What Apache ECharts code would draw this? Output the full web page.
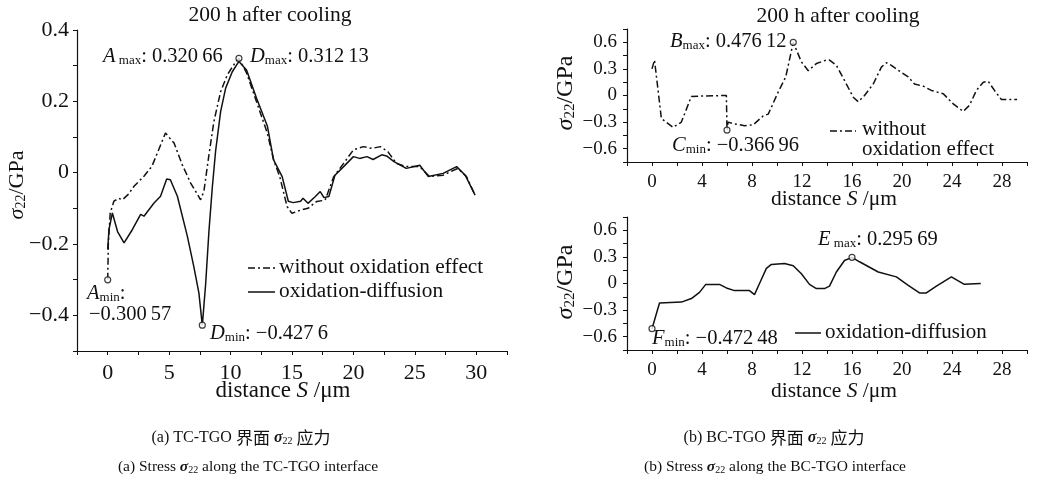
<!DOCTYPE html>
<html><head><meta charset="utf-8">
<script src="https://cdn.jsdelivr.net/npm/echarts@6/dist/echarts.min.js"></script>
<style>html,body{margin:0;padding:0;background:#fff}#c{width:1039px;height:493px}</style>
</head><body><div id="c"></div>
<script>
// ---------- DATA ----------
// (a) TC-TGO interface
const aWithoutX = [0, 0.05, 0.2, 0.5, 0.9, 1.2, 1.7, 2.14, 2.95, 3.6, 4.7, 5.4, 6.07, 6.75, 7.56, 7.83, 8.24, 8.64, 9.19, 9.73, 10.4, 10.68, 11.3, 12.1, 13.0, 13.5, 14.0, 14.6, 15.0, 15.7, 16.3, 17.0, 17.7, 18.4, 19.2, 20.0, 20.8, 21.5, 22.2, 22.8, 23.5, 24.3, 25.4, 26.2, 27.3, 28.5, 29.2, 29.9];
const aWithoutY = [-0.30, -0.2, -0.114, -0.08, -0.072, -0.076, -0.06, -0.038, -0.01, 0.018, 0.111, 0.083, 0.022, -0.029, -0.076, -0.052, 0.05, 0.143, 0.227, 0.274, 0.31, 0.3207, 0.28, 0.2, 0.11, 0.036, -0.011, -0.095, -0.114, -0.105, -0.1, -0.081, -0.077, -0.011, 0.026, 0.064, 0.073, 0.068, 0.073, 0.059, 0.026, 0.017, 0.017, -0.011, -0.007, 0.012, -0.011, -0.063];
const aDiffX = [0, 0.1, 0.38, 0.8, 1.33, 2.0, 2.68, 2.95, 3.77, 4.3, 4.8, 5.1, 5.67, 6.48, 7.0, 7.42, 7.7, 7.97, 8.24, 8.51, 8.78, 9.19, 9.6, 10.14, 10.68, 11.3, 12.1, 13.0, 13.5, 14.2, 14.7, 15.1, 15.7, 15.9, 16.3, 16.9, 17.3, 17.6, 18.0, 18.5, 19.2, 20.0, 20.5, 21.1, 21.6, 22.3, 22.7, 23.3, 24.3, 25.4, 26.1, 27.3, 28.4, 29.1, 29.9];
const aDiffY = [-0.215, -0.16, -0.113, -0.165, -0.197, -0.16, -0.117, -0.122, -0.085, -0.066, -0.018, -0.02, -0.066, -0.178, -0.262, -0.337, -0.428, -0.313, -0.164, -0.043, 0.06, 0.171, 0.237, 0.283, 0.312, 0.288, 0.21, 0.13, 0.036, -0.011, -0.08, -0.084, -0.08, -0.072, -0.086, -0.067, -0.053, -0.07, -0.067, -0.007, 0.017, 0.045, 0.04, 0.045, 0.037, 0.05, 0.047, 0.031, 0.012, 0.021, -0.011, -0.002, 0.017, -0.007, -0.063];
const aMarkX = [0, 10.68, 7.7];
const aMarkY = [-0.30057, 0.3207, -0.4276];

// (b) BC-TGO interface, without oxidation effect
const bWithoutX = [0, 0.2, 0.75, 1.68, 2.35, 3.15, 5.68, 5.95, 6.0, 6.08, 6.6, 7.4, 8.1, 8.9, 9.3, 10.1, 10.7, 11.3, 11.95, 12.5, 13.15, 13.95, 14.2, 14.75, 15.4, 16.1, 16.5, 17.0, 17.7, 18.35, 18.75, 19.15, 19.95, 20.5, 21.0, 21.7, 22.35, 23.3, 24.1, 24.9, 25.4, 25.95, 26.5, 26.9, 27.4, 27.95, 28.6, 29.2];
const bWithoutY = [0.30, 0.40, -0.26, -0.36, -0.30, -0.01, 0, 0, -0.39, -0.30, -0.32, -0.34, -0.33, -0.23, -0.21, 0.04, 0.21, 0.60, 0.38, 0.28, 0.36, 0.40, 0.40, 0.34, 0.17, -0.02, -0.07, 0, 0.13, 0.32, 0.37, 0.34, 0.26, 0.21, 0.13, 0.105, 0.057, 0.02, -0.095, -0.18, -0.11, 0.057, 0.15, 0.16, 0.057, -0.045, -0.045, -0.045];
const bWithoutMarkX = [11.3, 6.0];
const bWithoutMarkY = [0.60, -0.39];

// (b) BC-TGO interface, oxidation-diffusion
const bDiffX = [0, 0.6, 2.35, 3.15, 3.8, 4.3, 5.4, 5.95, 6.6, 7.8, 8.2, 8.6, 9.15, 9.55, 10.6, 11.3, 11.95, 12.6, 13.15, 13.8, 14.2, 14.75, 15.4, 16.0, 16.6, 18.1, 19.55, 20.5, 21.4, 21.95, 22.75, 23.95, 24.95, 26.3];
const bDiffY = [-0.51, -0.22, -0.21, -0.17, -0.10, -0.01, -0.01, -0.05, -0.08, -0.08, -0.125, 0, 0.17, 0.215, 0.226, 0.20, 0.11, -0.01, -0.057, -0.057, -0.03, 0.13, 0.26, 0.295, 0.245, 0.13, 0.075, -0.02, -0.106, -0.106, -0.03, 0.075, -0.008, 0];
const bDiffMarkX = [16.0, 0];
const bDiffMarkY = [0.295, -0.51];

// tick labels
const aXTicks = [0, 5, 10, 15, 20, 25, 30];
const aYTicks = [-0.4, -0.2, 0, 0.2, 0.4];
const bXTicks = [0, 4, 8, 12, 16, 20, 24, 28];
const bYTicks = [-0.6, -0.3, 0, 0.3, 0.6];

// ---------- CHART ----------
const FONT = "'Liberation Serif','Times New Roman',serif";
const CJK = "'Liberation Serif','Noto Sans CJK SC',serif";
const INK = '#111';
const zip = (xs, ys) => xs.map((x, i) => [x, ys[i]]);
const fmt = v => v === 0 ? '0' : (v < 0 ? '\u2212' + String(Math.abs(v)) : String(v));

function rich(size, fam) {
  fam = fam || FONT;
  return {
    i: { fontFamily: FONT, fontStyle: 'italic', fontSize: size, fill: INK },
    bi: { fontFamily: FONT, fontStyle: 'italic', fontWeight: 'bold', fontSize: size, fill: INK },
    s: { fontFamily: FONT, fontSize: Math.round(size * 0.64), verticalAlign: 'bottom', fill: INK },
    c: { fontFamily: "'Noto Sans CJK SC',serif", fontSize: size + 1, fill: INK },
    n: { fontFamily: fam, fontSize: size, fill: INK }
  };
}
function txt(x, y, text, size, align, extra, fam) {
  return Object.assign({
    type: 'text', x: x, y: y, silent: true,
    style: { text: text, rich: rich(size, fam), fontFamily: fam || FONT, fontSize: size, fill: INK,
             align: align || 'left', verticalAlign: 'middle' }
  }, extra || {});
}
function seg(x1, y1, x2, y2, dash) {
  return { type: 'line', silent: true, shape: { x1, y1, x2, y2 },
           style: { stroke: INK, lineWidth: 1.5, lineDash: dash || null } };
}
const DASHDOT = [7, 3, 2, 3];

function xAx(grid, min, max, interval, ticks, size) {
  return { type: 'value', gridIndex: grid, min, max, interval,
    axisLine: { show: true, onZero: false, lineStyle: { color: INK, width: 1.2 } },
    axisTick: { show: true, length: 4, lineStyle: { color: INK, width: 1 } },
    splitLine: { show: false },
    axisLabel: { customValues: ticks, formatter: fmt, fontFamily: FONT, fontSize: size, color: INK, margin: 11 } };
}
function yAx(grid, min, max, interval, ticks, size, margin) {
  return { type: 'value', gridIndex: grid, min, max, interval,
    axisLine: { show: true, onZero: false, lineStyle: { color: INK, width: 1.2 } },
    axisTick: { show: true, length: 4, lineStyle: { color: INK, width: 1 } },
    splitLine: { show: false },
    axisLabel: { customValues: ticks, formatter: fmt, fontFamily: FONT, fontSize: size, color: INK, margin: margin } };
}
function lineSeries(xi, data, dash) {
  return { type: 'line', xAxisIndex: xi, yAxisIndex: xi, data, showSymbol: false, smooth: false,
           silent: true, lineStyle: { color: INK, width: 1.5, type: dash ? DASHDOT : 'solid' }, z: 3 };
}
function markSeries(xi, data) {
  return { type: 'scatter', xAxisIndex: xi, yAxisIndex: xi, data, symbol: 'circle', symbolSize: 6,
           silent: true, itemStyle: { color: '#fff', borderColor: INK, borderWidth: 1.2 }, z: 5 };
}

const option = {
  animation: false,
  backgroundColor: '#fff',
  grid: [
    { left: 77, top: 30, width: 430, height: 321 },
    { left: 627, top: 29, width: 400, height: 133 },
    { left: 627, top: 217, width: 400, height: 133 }
  ],
  xAxis: [
    xAx(0, -2.5, 32.5, 2.5, aXTicks, 22),
    xAx(1, -2, 30, 2, bXTicks, 19),
    xAx(2, -2, 30, 2, bXTicks, 19)
  ],
  yAxis: [
    yAx(0, -0.5, 0.4, 0.1, aYTicks, 22, 8),
    yAx(1, -0.75, 0.75, 0.15, bYTicks, 19, 10),
    yAx(2, -0.75, 0.75, 0.15, bYTicks, 19, 10)
  ],
  series: [
    lineSeries(0, zip(aWithoutX, aWithoutY), true),
    lineSeries(0, zip(aDiffX, aDiffY), false),
    markSeries(0, zip(aMarkX, aMarkY)),
    lineSeries(1, zip(bWithoutX, bWithoutY), true),
    markSeries(1, zip(bWithoutMarkX, bWithoutMarkY)),
    lineSeries(2, zip(bDiffX, bDiffY), false),
    markSeries(2, zip(bDiffMarkX, bDiffMarkY))
  ],
  graphic: [
    // titles
    txt(270, 15, '200 h after cooling', 21.5, 'center'),
    txt(838, 16, '200 h after cooling', 21.5, 'center'),
    // axis names
    txt(283, 391, 'distance {i|S} /\u03bcm', 23, 'center'),
    txt(834, 199, 'distance {i|S} /\u03bcm', 21.5, 'center'),
    txt(834, 391, 'distance {i|S} /\u03bcm', 21.5, 'center'),
    txt(17, 185, '{i|\u03c3}{s|22}/GPa', 22, 'center', { rotation: Math.PI / 2 }),
    txt(566, 93, '{i|\u03c3}{s|22}/GPa', 24, 'center', { rotation: Math.PI / 2 }),
    txt(566, 282, '{i|\u03c3}{s|22}/GPa', 24, 'center', { rotation: Math.PI / 2 }),
    // annotations (a)
    txt(103, 57, '{i|A}{s| max}: 0.320\u200966', 20.5),
    txt(250, 57, '{i|D}{s|max}: 0.312\u200913', 20.5),
    txt(87, 294, '{i|A}{s|min}:', 20.5),
    txt(89, 315, '\u22120.300\u200957', 20.5),
    txt(210, 334, '{i|D}{s|min}: \u22120.427\u20096', 20.5),
    // legend (a)
    seg(248, 268, 275, 268, DASHDOT),
    txt(279, 267, 'without oxidation effect', 21.3),
    seg(248, 292, 275, 292),
    txt(279, 291, 'oxidation-diffusion', 21.3),
    // annotations (b)
    txt(670, 42, '{i|B}{s|max}: 0.476\u200912', 20.5),
    txt(672, 146, '{i|C}{s|min}: \u22120.366\u200996', 20.5),
    txt(818, 240, '{i|E}{s| max}: 0.295\u200969', 20.5),
    txt(652, 339, '{i|F}{s|min}: \u22120.472\u200948', 20.5),
    // legends (b)
    seg(830, 131, 856, 131, DASHDOT),
    txt(862, 129, 'without', 21),
    txt(862, 149, 'oxidation effect', 21),
    seg(795, 333, 821, 333),
    txt(825, 332, 'oxidation-diffusion', 21),
    // captions
    txt(241, 438, '(a) TC-TGO {c|\u754c\u9762} {bi|\u03c3}{s|22} {c|\u5e94\u529b}', 16, 'center', null, CJK),
    txt(248, 467, '(a) Stress {bi|\u03c3}{s|22} along the TC-TGO interface', 15.5, 'center', null, CJK),
    txt(774, 438, '(b) BC-TGO {c|\u754c\u9762} {bi|\u03c3}{s|22} {c|\u5e94\u529b}', 16, 'center', null, CJK),
    txt(775, 467, '(b) Stress {bi|\u03c3}{s|22} along the BC-TGO interface', 15.5, 'center', null, CJK)
  ]
};
const chart = echarts.init(document.getElementById('c'), null, { renderer: 'canvas' });
chart.setOption(option);
</script></body></html>
